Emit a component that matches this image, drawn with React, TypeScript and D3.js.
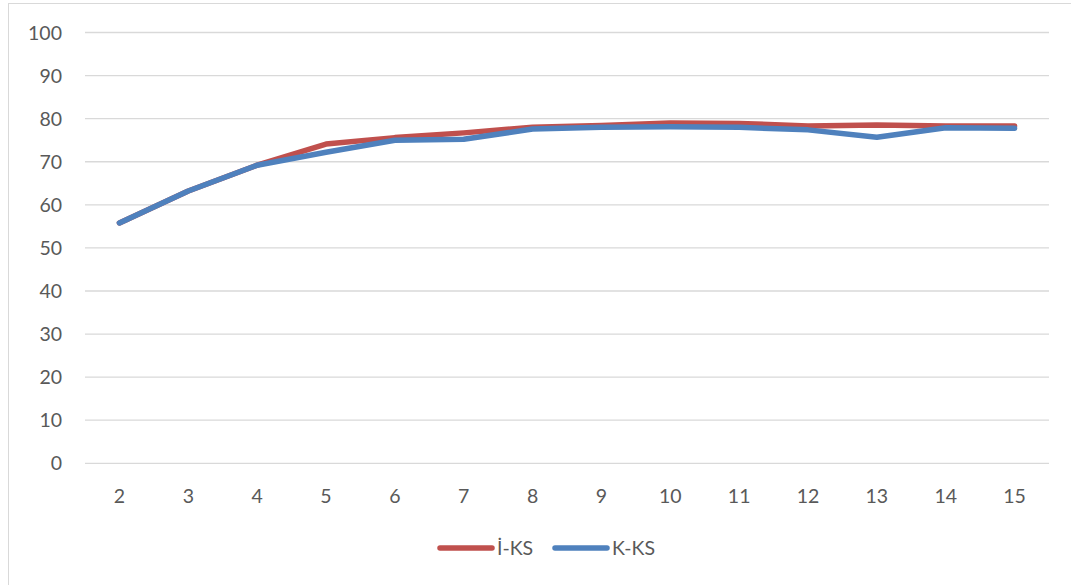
import React from "react";
import * as d3 from "d3";

const categories = ["2", "3", "4", "5", "6", "7", "8", "9", "10", "11", "12", "13", "14", "15"];
const iksValues = [55.8, 63.2, 69.2, 74.1, 75.6, 76.7, 78.0, 78.4, 79.0, 78.9, 78.3, 78.5, 78.3, 78.3];
const kksValues = [55.8, 63.2, 69.2, 72.2, 75.0, 75.2, 77.6, 78.0, 78.1, 78.0, 77.4, 75.7, 77.9, 77.8];
const yTicks = [0, 10, 20, 30, 40, 50, 60, 70, 80, 90, 100];

const series = [
  { name: "İ-KS", values: iksValues, color: "#C0504D" },
  { name: "K-KS", values: kksValues, color: "#4F81BD" },
];

const W = 1071;
const H = 585;
const plot = { left: 85, right: 1049, top: 32.5, bottom: 463.3 };
const FONT = "Lato, 'Open Sans', sans-serif";
const TEXT = "#595959";
const GRID = "#D9D9D9";

export default function App() {
  const x = d3.scaleBand<string>().domain(categories).range([plot.left, plot.right]);
  const y = d3.scaleLinear().domain([0, 100]).range([plot.bottom, plot.top]);
  const cx = (c: string) => (x(c) ?? 0) + x.bandwidth() / 2;

  const line = d3
    .line<number>()
    .x((_, i) => cx(categories[i]))
    .y((d) => y(d));

  return (
    <svg
      width={W}
      height={H}
      style={{ position: "absolute", left: 0, top: 0, background: "#fff" }}
      fontFamily={FONT}
    >
      <rect x={8.5} y={3.5} width={1100} height={700} fill="#fff" stroke={GRID} strokeWidth={1} />
      {yTicks.map((t) => (
        <g key={t}>
          <line x1={plot.left} x2={plot.right} y1={y(t)} y2={y(t)} stroke={GRID} strokeWidth={1.3} />
          <text x={62} y={y(t) + 7} textAnchor="end" fontSize={19.5} fill={TEXT}>
            {t}
          </text>
        </g>
      ))}
      {categories.map((c) => (
        <text key={c} x={cx(c)} y={502.5} textAnchor="middle" fontSize={19.5} fill={TEXT}>
          {c}
        </text>
      ))}
      {series.map((s) => (
        <path
          key={s.name}
          d={line(s.values) ?? ""}
          fill="none"
          stroke={s.color}
          strokeWidth={5.5}
          strokeLinecap="round"
          strokeLinejoin="round"
        />
      ))}
      <g>
        <line x1={440} x2={492} y1={548} y2={548} stroke={series[0].color} strokeWidth={5.5} strokeLinecap="round" />
        <text x={497} y={555} fontSize={19.5} fill={TEXT}>
          {series[0].name}
        </text>
        <line x1={555} x2={607} y1={548} y2={548} stroke={series[1].color} strokeWidth={5.5} strokeLinecap="round" />
        <text x={612} y={555} fontSize={19.5} fill={TEXT}>
          {series[1].name}
        </text>
      </g>
    </svg>
  );
}
